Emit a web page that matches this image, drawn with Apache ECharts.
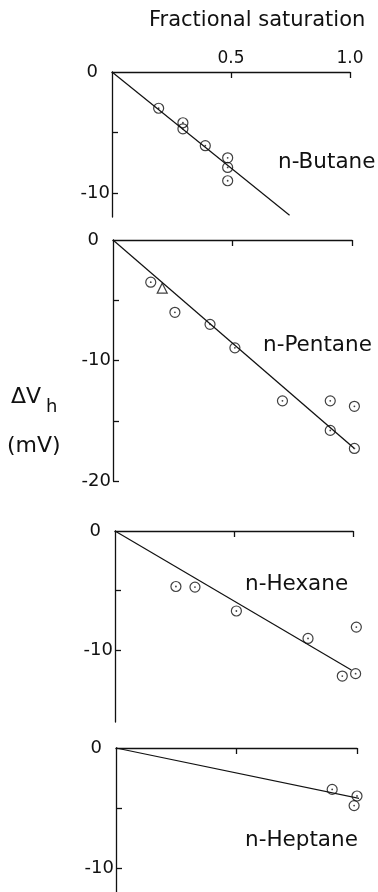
<!DOCTYPE html>
<html><head><meta charset="utf-8">
<script src="https://cdn.jsdelivr.net/npm/echarts@6/dist/echarts.min.js"></script>
<style>html,body{margin:0;padding:0;background:#fff}#c{width:378px;height:892px}</style>
</head><body><div id="c"></div>
<script>
// ---- data ----
const panelNames = ['n-Butane', 'n-Pentane', 'n-Hexane', 'n-Heptane'];
const xTickValues = [0.5, 1.0];
const butaneX = [0.196, 0.298, 0.298, 0.392, 0.486, 0.486, 0.486];
const butaneY = [-3.0, -4.2, -4.7, -6.1, -7.1, -7.9, -9.0];
const butaneFit = [[0, 0], [0.746, -11.85]];
const pentaneX = [0.158, 0.259, 0.406, 0.51, 0.709, 0.909, 1.01, 0.909, 1.01];
const pentaneY = [-3.5, -6.0, -7.0, -8.95, -13.35, -13.35, -13.8, -15.8, -17.3];
const pentaneTriX = [0.206];
const pentaneTriY = [-4.0];
const pentaneFit = [[0, 0], [1.01, -17.3]];
const hexaneX = [0.256, 0.336, 0.51, 0.811, 1.014, 0.955, 1.011];
const hexaneY = [-4.65, -4.7, -6.7, -9.0, -8.05, -12.15, -11.95];
const hexaneFit = [[0, 0], [0.993, -11.65]];
const heptaneX = [0.897, 1.0, 0.988];
const heptaneY = [-3.45, -4.0, -4.8];
const heptaneFit = [[0, 0], [1.01, -4.2]];
const yMins = [-12, -20, -16, -12];
const yTicks = [[-5, -10], [-5, -10, -15, -20], [-5, -10], [-5, -10]];
const yLabels = [[0, -10], [0, -10, -20], [0, -10], [0, -10]];

// ---- layout ----
const FONT = 'DejaVu Sans';
const INK = '#111';
const grids = [
  {left: 112, top: 72, width: 238, height: 145},
  {left: 113, top: 240, width: 239, height: 241},
  {left: 115, top: 531, width: 238, height: 191},
  {left: 116, top: 748, width: 241, height: 145}
];
const zip = (xs, ys) => xs.map((x, i) => [x, ys[i]]);

const xAxes = grids.map((g, i) => ({
  gridIndex: i, type: 'value', min: 0, max: 1, position: 'top',
  axisLine: {show: true, onZero: false, lineStyle: {color: INK, width: 1.3}},
  axisTick: {show: true, inside: true, length: 6, customValues: xTickValues, lineStyle: {color: INK, width: 1.3}},
  axisLabel: {show: i === 0, customValues: xTickValues, margin: 5, color: INK, fontFamily: FONT, fontSize: 17,
    formatter: v => v.toFixed(1)},
  splitLine: {show: false}
}));
const yAxes = grids.map((g, i) => ({
  gridIndex: i, type: 'value', min: yMins[i], max: 0,
  axisLine: {show: true, onZero: false, lineStyle: {color: INK, width: 1.3}},
  axisTick: {show: true, inside: true, length: 6, customValues: yTicks[i], lineStyle: {color: INK, width: 1.3}},
  axisLabel: {show: true, customValues: yLabels[i], margin: 2, color: INK, fontFamily: FONT, fontSize: 18,
    formatter: v => v === 0 ? '{z|0}' : String(v),
    rich: {z: {padding: [0, 12, 0, 0], color: INK, fontFamily: FONT, fontSize: 18}}},
  splitLine: {show: false}
}));

function circles(data, gi) {
  return [
    {type: 'scatter', xAxisIndex: gi, yAxisIndex: gi, data, symbol: 'circle', symbolSize: 10, clip: false,
      itemStyle: {color: 'rgba(0,0,0,0)', borderColor: INK, borderWidth: 1.2}},
    {type: 'scatter', xAxisIndex: gi, yAxisIndex: gi, data, symbol: 'circle', symbolSize: 1.8, clip: false,
      itemStyle: {color: INK}}
  ];
}
function fit(data, gi) {
  return {type: 'line', xAxisIndex: gi, yAxisIndex: gi, data, symbol: 'none', clip: false,
    lineStyle: {color: INK, width: 1.2}};
}

const series = [
  ...circles(zip(butaneX, butaneY), 0), fit(butaneFit, 0),
  ...circles(zip(pentaneX, pentaneY), 1), fit(pentaneFit, 1),
  {type: 'scatter', xAxisIndex: 1, yAxisIndex: 1, data: zip(pentaneTriX, pentaneTriY), symbol: 'triangle', symbolSize: 10,
    itemStyle: {color: 'rgba(0,0,0,0)', borderColor: INK, borderWidth: 1.2}},
  ...circles(zip(hexaneX, hexaneY), 2), fit(hexaneFit, 2),
  ...circles(zip(heptaneX, heptaneY), 3), fit(heptaneFit, 3)
];

const txt = (text, x, y, size) => ({
  type: 'text', x, y, style: {text, fill: INK, font: size + 'px "' + FONT + '"', textVerticalAlign: 'middle'}
});
const namePos = [[278, 162], [263, 345], [245, 584], [245, 840]];
const graphic = [
  txt('Fractional saturation', 149, 21, 21),
  ...panelNames.map((n, i) => txt(n, namePos[i][0], namePos[i][1], 21.5)),
  txt('\u0394V', 11, 397, 22),
  txt('h', 46, 407, 18),
  txt('(mV)', 7, 446, 22)
];

const chart = echarts.init(document.getElementById('c'), null, {renderer: 'canvas'});
chart.setOption({
  backgroundColor: '#fff', animation: false,
  grid: grids.map(g => Object.assign({containLabel: false}, g)),
  xAxis: xAxes, yAxis: yAxes, series, graphic
});
</script></body></html>
